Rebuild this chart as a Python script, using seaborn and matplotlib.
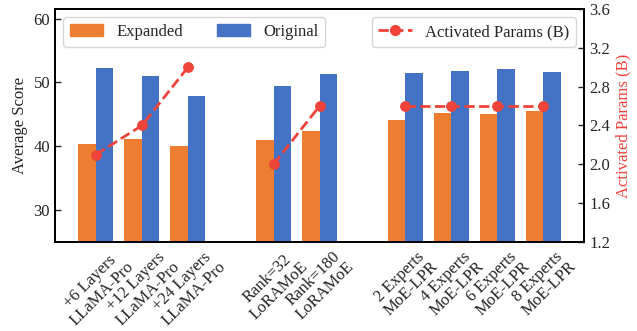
import matplotlib; matplotlib.use("Agg")
import matplotlib.pyplot as plt
from matplotlib.patches import Patch
from matplotlib.lines import Line2D
import pandas as pd
import seaborn as sns

# ── data ──────────────────────────────────────────────────────────────────────
LABELS = ["+6 Layers\nLLaMA-Pro", "+12 Layers\nLLaMA-Pro", "+24 Layers\nLLaMA-Pro",
          "Rank=32\nLoRAMoE", "Rank=180\nLoRAMoE",
          "2 Experts\nMoE-LPR", "4 Experts\nMoE-LPR", "6 Experts\nMoE-LPR", "8 Experts\nMoE-LPR"]
METHOD = ["LLaMA-Pro"] * 3 + ["LoRAMoE"] * 2 + ["MoE-LPR"] * 4
EXPANDED = [40.4, 41.1, 40.0, 41.0, 42.4, 44.1, 45.2, 45.0, 45.5]
ORIGINAL = [52.2, 51.0, 47.8, 49.5, 51.3, 51.5, 51.8, 52.1, 51.6]
PARAMS = [2.1, 2.4, 3.0, 2.0, 2.6, 2.6, 2.6, 2.6, 2.6]

# ── layout (x slots, wider gap between methods) ───────────────────────────────
XPOS = [0, 1, 2, 3.86, 4.86, 6.72, 7.72, 8.72, 9.72]
C_EXP, C_ORI, C_RED = "#ED7D31", "#4472C4", "#F0433A"

sns.set_style("white")
plt.rcParams["font.family"] = ["Liberation Serif", "DejaVu Serif"]
plt.rcParams["font.size"] = 12

bars = pd.DataFrame({
    "pos": XPOS * 2,
    "score": EXPANDED + ORIGINAL,
    "kind": ["Expanded"] * len(XPOS) + ["Original"] * len(XPOS),
})
line = pd.DataFrame({"pos": XPOS, "params": PARAMS, "method": METHOD})

fig = plt.figure(figsize=(6.37, 3.31), dpi=100)
fig.subplots_adjust(left=0.0863, right=0.917, top=0.973, bottom=0.269)
ax = fig.add_subplot(111)

sns.barplot(data=bars, x="pos", y="score", hue="kind", native_scale=True,
            palette={"Expanded": C_EXP, "Original": C_ORI}, width=0.76,
            saturation=1, legend=False, linewidth=0, edgecolor="none", ax=ax)
ax.set_xlim(-0.89, 10.61)
ax.set_ylim(25, 61.5)
ax.set_yticks([30, 40, 50, 60])
ax.set_xticks(XPOS)
ax.set_xticklabels(LABELS, rotation=45, ha="center", fontsize=12, linespacing=1.05)
ax.set_xlabel("")
ax.set_ylabel("Average Score", fontsize=12)
ax.tick_params(direction="in", length=4, width=1, labelsize=12)

ax2 = ax.twinx()
sns.lineplot(data=line, x="pos", y="params", units="method", estimator=None,
             color=C_RED, linestyle="--", linewidth=2, marker="o", markersize=7,
             markeredgecolor=C_RED, legend=False, ax=ax2)
ax2.set_ylim(1.2, 3.6)
ax2.set_yticks([1.2, 1.6, 2.0, 2.4, 2.8, 3.2, 3.6])
ax2.set_yticklabels([f"{v:.1f}" for v in [1.2, 1.6, 2.0, 2.4, 2.8, 3.2, 3.6]])
ax2.set_ylabel("Activated Params (B)", color=C_RED, fontsize=12)
ax2.tick_params(direction="in", length=4, width=1, labelsize=12)
ax2.set_xlim(-0.89, 10.61)

for a in (ax, ax2):
    for s in a.spines.values():
        s.set_color("black")
        s.set_linewidth(1.3)

h_bars = [Patch(color=C_EXP, label="Expanded"), Patch(color=C_ORI, label="Original")]
ax.legend(handles=h_bars, loc="upper left", ncol=2, fontsize=12,
          frameon=True, edgecolor="0.8", fancybox=True)
h_line = [Line2D([0], [0], color=C_RED, ls="--", lw=2, marker="o", ms=7,
                 label="Activated Params (B)")]
ax2.legend(handles=h_line, loc="upper right", fontsize=12,
           frameon=True, edgecolor="0.8", fancybox=True)

fig.savefig("out.png", dpi=100)
